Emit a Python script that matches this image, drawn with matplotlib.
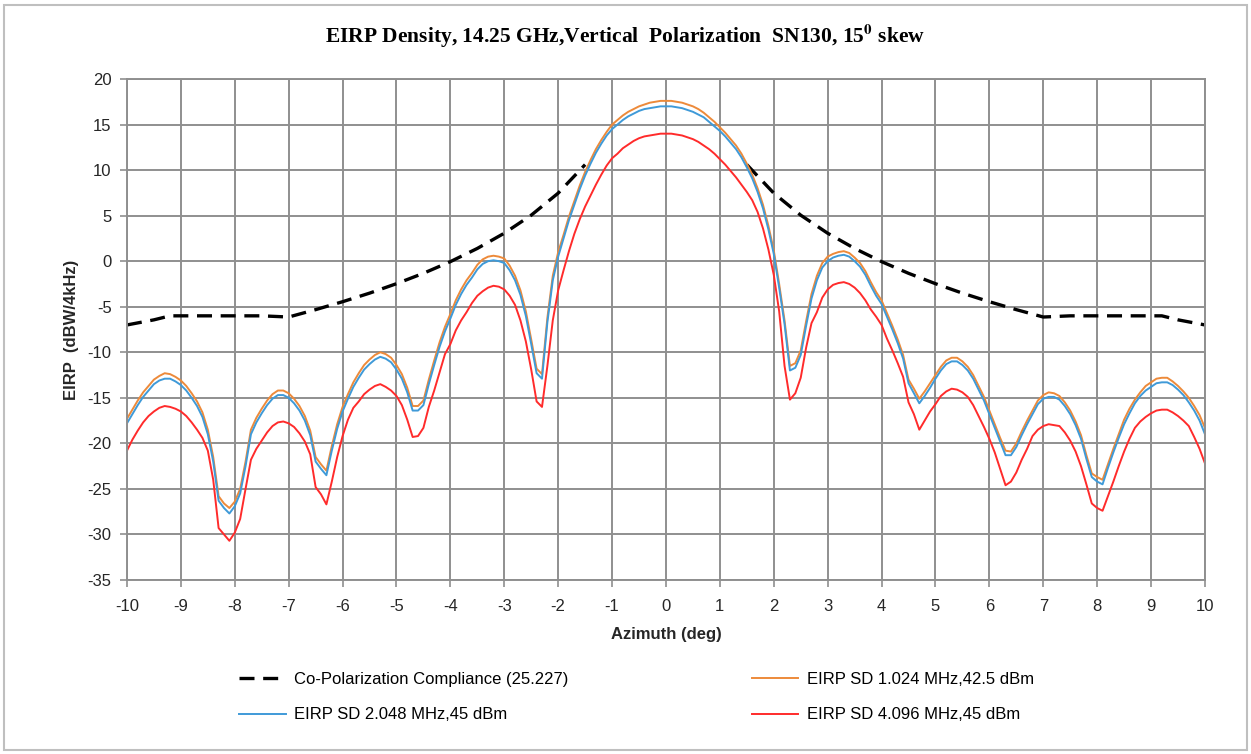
import matplotlib
matplotlib.use('Agg')
import matplotlib.pyplot as plt
import numpy as np
from matplotlib.patches import Rectangle

# azimuth samples (deg), 0.1 deg step from -10 to 10
azimuth = np.round(np.arange(-100, 101) / 10.0, 1)

# EIRP SD 1.024 MHz, 42.5 dBm
eirp_1024 = [
    -17.3, -16.3, -15.3, -14.4, -13.7, -13.0, -12.6, -12.3, -12.4, -12.7,
    -13.1, -13.7, -14.5, -15.4, -16.6, -18.5, -21.5, -25.8, -26.6, -27.1,
    -26.4, -25.0, -22.0, -18.5, -17.2, -16.2, -15.3, -14.6, -14.2, -14.2,
    -14.5, -15.1, -15.9, -17.0, -18.6, -21.5, -22.3, -23.0, -20.3, -17.9,
    -16.0, -14.6, -13.3, -12.3, -11.4, -10.8, -10.3, -10.0, -10.2, -10.6,
    -11.4, -12.4, -13.9, -15.9, -15.9, -15.3, -13.0, -10.9, -8.9, -7.2,
    -5.8, -4.3, -3.1, -2.1, -1.3, -0.4, 0.2, 0.5, 0.6, 0.5,
    0.3, -0.5, -1.6, -3.2, -5.5, -8.6, -11.8, -12.4, -6.2, -1.6,
    1.0, 2.9, 4.9, 6.6, 8.3, 9.8, 11.1, 12.3, 13.3, 14.2,
    15.0, 15.5, 16.0, 16.4, 16.7, 17.0, 17.2, 17.4, 17.5, 17.6,
    17.6,
    17.6, 17.5, 17.4, 17.2, 17.0, 16.7, 16.3, 15.8, 15.3, 14.7,
    14.1, 13.4, 12.7, 11.8, 10.7, 9.5, 8.0, 6.2, 3.9, 1.2,
    -2.5, -6.5, -11.5, -11.2, -9.8, -6.6, -3.6, -1.6, -0.2, 0.5,
    0.8, 1.0, 1.1, 0.9, 0.4, -0.2, -1.1, -2.3, -3.4, -4.3,
    -5.7, -7.1, -8.6, -10.3, -13.0, -14.0, -15.1, -14.3, -13.4, -12.5,
    -11.6, -10.9, -10.6, -10.6, -11.0, -11.6, -12.5, -13.7, -14.9, -16.4,
    -17.9, -19.4, -20.8, -20.9, -20.0, -18.7, -17.5, -16.4, -15.3, -14.7,
    -14.4, -14.5, -14.8, -15.5, -16.4, -17.6, -19.1, -21.3, -23.3, -23.7,
    -24.0, -22.3, -20.6, -19.0, -17.4, -16.2, -15.2, -14.4, -13.7, -13.3,
    -12.9, -12.8, -12.8, -13.2, -13.7, -14.3, -15.0, -15.9, -16.9, -18.3,
]

# EIRP SD 2.048 MHz, 45 dBm
eirp_2048 = [
    -17.8, -16.8, -15.8, -14.9, -14.2, -13.5, -13.1, -12.9, -12.9, -13.2,
    -13.6, -14.2, -15.0, -15.9, -17.1, -19.0, -22.0, -26.3, -27.1, -27.7,
    -26.9, -25.5, -22.5, -19.0, -17.7, -16.7, -15.8, -15.1, -14.7, -14.7,
    -15.0, -15.6, -16.4, -17.5, -19.1, -22.0, -22.8, -23.5, -20.8, -18.4,
    -16.5, -15.1, -13.8, -12.8, -11.9, -11.3, -10.8, -10.5, -10.7, -11.1,
    -11.9, -12.9, -14.4, -16.4, -16.4, -15.8, -13.5, -11.4, -9.4, -7.7,
    -6.3, -4.8, -3.6, -2.6, -1.8, -0.9, -0.3, 0.0, 0.1, 0.0,
    -0.2, -1.0, -2.1, -3.7, -6.0, -9.1, -12.3, -12.9, -6.7, -2.1,
    0.5, 2.5, 4.5, 6.2, 7.9, 9.4, 10.7, 11.9, 12.9, 13.8,
    14.5, 15.0, 15.5, 15.9, 16.2, 16.5, 16.7, 16.8, 16.9, 17.0,
    17.0,
    17.0, 16.9, 16.8, 16.6, 16.4, 16.1, 15.8, 15.3, 14.8, 14.3,
    13.7, 13.0, 12.3, 11.4, 10.3, 9.1, 7.6, 5.8, 3.5, 0.8,
    -2.9, -6.9, -12.0, -11.7, -10.3, -7.1, -4.1, -2.1, -0.7, 0.0,
    0.4, 0.6, 0.7, 0.5, 0.0, -0.6, -1.5, -2.7, -3.8, -4.7,
    -6.1, -7.5, -9.0, -10.7, -13.4, -14.5, -15.6, -14.8, -13.9, -12.9,
    -12.0, -11.3, -11.0, -11.0, -11.4, -12.0, -12.9, -14.1, -15.3, -16.8,
    -18.3, -19.8, -21.3, -21.3, -20.4, -19.1, -17.9, -16.8, -15.7, -15.1,
    -14.9, -14.9, -15.2, -15.9, -16.8, -18.0, -19.5, -21.7, -23.7, -24.2,
    -24.5, -22.7, -21.0, -19.4, -17.9, -16.7, -15.6, -14.8, -14.2, -13.8,
    -13.4, -13.3, -13.3, -13.6, -14.1, -14.7, -15.5, -16.4, -17.5, -19.0,
]

# EIRP SD 4.096 MHz, 45 dBm
eirp_4096 = [
    -20.8, -19.6, -18.6, -17.7, -17.0, -16.5, -16.1, -15.9, -16.0, -16.2,
    -16.5, -17.0, -17.7, -18.5, -19.4, -20.8, -24.0, -29.3, -30.0, -30.7,
    -29.8, -28.3, -25.0, -21.8, -20.6, -19.7, -18.8, -18.1, -17.7, -17.6,
    -17.8, -18.2, -18.9, -19.8, -21.2, -24.8, -25.6, -26.7, -24.2, -21.5,
    -19.2, -17.4, -16.1, -15.4, -14.6, -14.1, -13.7, -13.5, -13.8, -14.2,
    -14.8, -15.8, -17.4, -19.3, -19.2, -18.3, -16.0, -14.2, -12.2, -10.2,
    -9.1, -7.6, -6.5, -5.6, -4.6, -3.8, -3.3, -2.9, -2.7, -2.8,
    -3.1, -3.8, -4.8, -6.5, -8.8, -11.9, -15.4, -16.0, -11.5, -6.5,
    -3.2, -1.0, 1.1, 3.0, 4.6, 6.0, 7.2, 8.4, 9.5, 10.5,
    11.3, 11.8, 12.4, 12.8, 13.2, 13.5, 13.7, 13.8, 13.9, 14.0,
    14.0,
    14.0, 13.9, 13.8, 13.6, 13.4, 13.1, 12.7, 12.3, 11.8, 11.2,
    10.6, 9.9, 9.2, 8.4, 7.6, 6.7, 5.4, 3.6, 1.3, -1.5,
    -5.5, -11.5, -15.2, -14.5, -12.8, -9.5, -6.8, -5.6, -4.0, -3.1,
    -2.6, -2.4, -2.3, -2.5, -2.9, -3.5, -4.3, -5.3, -6.1, -7.0,
    -8.5, -9.8, -11.2, -12.7, -15.5, -16.8, -18.5, -17.5, -16.5, -15.7,
    -14.8, -14.3, -14.0, -14.1, -14.4, -14.9, -15.8, -17.0, -18.2, -19.5,
    -21.0, -22.8, -24.6, -24.2, -23.2, -21.8, -20.6, -19.2, -18.5, -18.1,
    -17.9, -18.0, -18.1, -18.8, -19.7, -20.9, -22.5, -24.5, -26.6, -27.1,
    -27.4, -25.8, -24.2, -22.5, -20.9, -19.5, -18.3, -17.6, -17.1, -16.7,
    -16.4, -16.3, -16.3, -16.6, -17.0, -17.5, -18.1, -19.3, -20.6, -22.2,
]

# co-polarization compliance mask (25.227), no mask inside +/-1.5 deg
mask_az = [-10, -9.5, -9.2, -9, -8.5, -8, -7.5, -7, -6.5, -6, -5.5, -5, -4.5,
           -4, -3.5, -3, -2.5, -2, -1.5, np.nan,
           1.5, 2, 2.5, 3, 3.5, 4, 4.5, 5, 5.5, 6, 6.5, 7, 7.5, 8, 8.5, 9,
           9.2, 9.5, 10]
mask_val = [-7.0, -6.44, -6.0, -6.0, -6.0, -6.0, -6.0, -6.13, -5.32, -4.45,
            -3.51, -2.47, -1.33, -0.05, 1.40, 3.07, 5.05, 7.47, 10.60, np.nan,
            10.60, 7.47, 5.05, 3.07, 1.40, -0.05, -1.33, -2.47, -3.51, -4.45,
            -5.32, -6.13, -6.0, -6.0, -6.0, -6.0, -6.0, -6.44, -7.0]

x_ticks = list(range(-10, 11))
y_ticks = list(range(-35, 21, 5))

plt.rcParams['mathtext.fontset'] = 'stix'
plt.rcParams['axes.unicode_minus'] = False
label_font = ['Liberation Sans', 'DejaVu Sans']

fig = plt.figure(figsize=(12.51, 7.54), dpi=100)
ax = fig.add_axes([0.1015, 0.2308, 0.8617, 0.6644])

# outer chart border
fig.patches.append(Rectangle((0.003, 0.005), 0.994, 0.988, transform=fig.transFigure,
                             fill=False, edgecolor='#bfbfbf', linewidth=1.5))

l_mask, = ax.plot(mask_az, mask_val, color='black', linewidth=2.4,
                  dashes=(4.5, 2.6), label='Co-Polarization Compliance (25.227)')
l_1024, = ax.plot(azimuth, eirp_1024, color='#ed8a3a', linewidth=1.4,
                  label='EIRP SD 1.024 MHz,42.5 dBm')
l_2048, = ax.plot(azimuth, eirp_2048, color='#3f9ad8', linewidth=1.4,
                  label='EIRP SD 2.048 MHz,45 dBm')
l_4096, = ax.plot(azimuth, eirp_4096, color='#ff2b2b', linewidth=1.4,
                  label='EIRP SD 4.096 MHz,45 dBm')

ax.set_xlim(-10, 10)
ax.set_ylim(-35, 20)
ax.set_xticks(x_ticks)
ax.set_yticks(y_ticks)
ax.grid(True, color='#8f8f8f', linewidth=1.4)
ax.set_axisbelow(True)
for s in ax.spines.values():
    s.set_color('#8f8f8f')
    s.set_linewidth(1.4)
ax.tick_params(axis='both', direction='out', length=5, width=1.2, color='#8f8f8f',
               labelsize=12, labelcolor='#262626')
ax.tick_params(axis='x', pad=9)
ax.tick_params(axis='y', pad=6)
for lab in ax.get_xticklabels() + ax.get_yticklabels():
    lab.set_family(label_font)

ax.set_xlabel('Azimuth (deg)', fontsize=12, fontweight='bold', family=label_font,
              color='#262626', labelpad=9)
ax.set_ylabel('EIRP  (dBW/4kHz)', fontsize=12, fontweight='bold', family=label_font,
              color='#262626', labelpad=6)

fig.text(0.5, 0.952, r'EIRP Density, 14.25 GHz,Vertical  Polarization  SN130, 15$^{\mathbf{0}}$ skew',
         ha='center', va='center', fontsize=15.5, fontweight='bold', family='Liberation Serif')

fig.legend(handles=[l_mask, l_2048, l_1024, l_4096], ncol=2,
           loc='lower left', bbox_to_anchor=(0.179, 0.022), frameon=False,
           prop={'family': label_font, 'size': 12}, handlelength=2.8,
           handletextpad=0.5, columnspacing=11.0, labelspacing=1.25)

fig.savefig('out.png', dpi=100)
